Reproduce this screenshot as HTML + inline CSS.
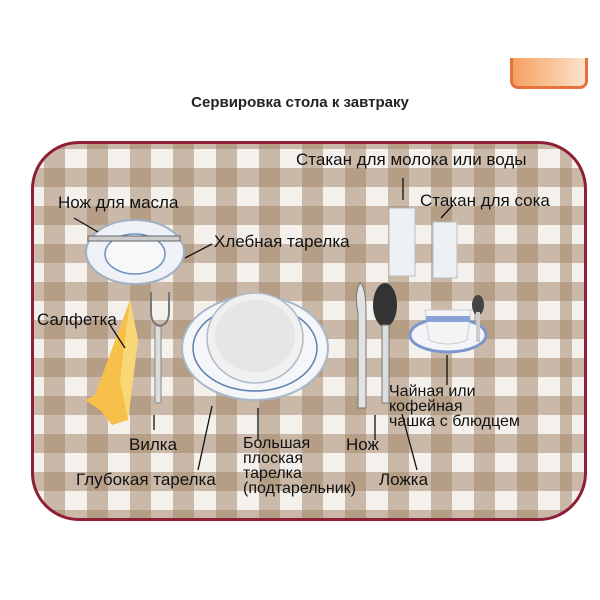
<!DOCTYPE html>
<html><head><meta charset="utf-8"><style>
body{margin:0;width:600px;height:600px;background:#fff;position:relative;overflow:hidden;font-family:"Liberation Sans",sans-serif;}
.cloth{position:absolute;left:31px;top:141px;width:550px;height:374px;border:3px solid #8f1f35;border-radius:48px;overflow:hidden;
background-color:#f4f1ec;
background-image:repeating-linear-gradient(90deg,transparent 0 22px,rgba(160,130,100,.5) 22px 43px),repeating-linear-gradient(0deg,transparent 0 19px,rgba(160,130,100,.5) 19px 38px);
background-position:-12px -8px;}
.t{position:absolute;font-size:16px;color:#111;line-height:16px;white-space:nowrap;}
svg{position:absolute;left:0;top:0}
</style></head><body>
<div style="position:absolute;left:510px;top:58px;width:72px;height:28px;border:3px solid #e8703a;border-top:none;border-radius:0 0 8px 8px;background:linear-gradient(90deg,#f5a060,#fbe3cc)"></div>
<div style="position:absolute;left:0;top:94px;width:600px;text-align:center;font-weight:bold;font-size:15px;color:#222">Сервировка стола к завтраку</div>
<div class="cloth"></div>
<svg width="600" height="600">
<ellipse cx="135" cy="252" rx="49" ry="32" fill="#eef2f6" stroke="#9fb0c4" stroke-width="2"/>
<ellipse cx="135" cy="254" rx="30" ry="20" fill="#f6f8fa" stroke="#6d8fc0" stroke-width="1.5"/>
<rect x="88" y="236" width="92" height="5" fill="#ccc" stroke="#666" stroke-width="1"/>
<path d="M95 395 L130 300 L138 340 L128 420 L112 425 L100 410 L85 400 Z" fill="#f7c04a"/>
<path d="M130 300 L138 340 L128 420 L120 380 Z" fill="#f9d777"/>
<rect x="155" y="325" width="6" height="78" rx="2" fill="#ddd" stroke="#888"/>
<path d="M151 292 v20 q0 12 9 14 q9 -2 9 -14 v-20" fill="none" stroke="#777" stroke-width="2"/>
<ellipse cx="255" cy="348" rx="73" ry="52" fill="#f4f6f8" stroke="#a7b7c9" stroke-width="2"/>
<ellipse cx="255" cy="348" rx="62" ry="43" fill="none" stroke="#5d7fb0" stroke-width="1.5"/>
<ellipse cx="255" cy="338" rx="48" ry="45" fill="#f0f0f0" stroke="#b0bac6" stroke-width="1.5"/>
<ellipse cx="255" cy="336" rx="40" ry="36" fill="#e6e6e6"/>
<path d="M360 283 q6 4 6 30 v95 h-8 v-95 q-4 -20 2 -30z" fill="#e2e2e2" stroke="#777"/>
<ellipse cx="385" cy="305" rx="12" ry="22" fill="#333"/>
<rect x="382" y="325" width="7" height="78" fill="#ddd" stroke="#777"/>
<rect x="389" y="208" width="26" height="68" fill="#eef1f3" stroke="#bbb"/>
<rect x="433" y="222" width="24" height="56" fill="#eef1f3" stroke="#bbb"/>
<ellipse cx="448" cy="335" rx="38" ry="17" fill="#f2f4f8" stroke="#7d97cc" stroke-width="3"/>
<path d="M425 310 h46 l-4 30 q-19 8 -38 0z" fill="#f4f4f4" stroke="#ccc"/>
<rect x="426" y="316" width="44" height="6" fill="#8aa3d6"/>
<ellipse cx="478" cy="305" rx="6" ry="10" fill="#444"/>
<rect x="476" y="312" width="4" height="30" fill="#ccc"/>
<g stroke="#111" stroke-width="1.3" fill="none">
<line x1="74" y1="218" x2="98" y2="232"/>
<line x1="185" y1="258" x2="212" y2="244"/>
<line x1="110" y1="325" x2="125" y2="348"/>
<line x1="154" y1="415" x2="154" y2="430"/>
<line x1="212" y1="406" x2="198" y2="470"/>
<line x1="258" y1="408" x2="258" y2="440"/>
<line x1="375" y1="415" x2="375" y2="440"/>
<line x1="402" y1="414" x2="417" y2="470"/>
<line x1="403" y1="178" x2="403" y2="200"/>
<line x1="441" y1="218" x2="453" y2="205"/>
<line x1="447" y1="355" x2="447" y2="385"/>
</g>
</svg>
<div class="t" style="left:296px;top:152px;font-size:17px">Стакан для молока или воды</div>
<div class="t" style="left:420px;top:193px;font-size:17px">Стакан для сока</div>
<div class="t" style="left:58px;top:195px;font-size:17px">Нож для масла</div>
<div class="t" style="left:214px;top:234px;font-size:17px">Хлебная тарелка</div>
<div class="t" style="left:37px;top:312px;font-size:17px">Салфетка</div>
<div class="t" style="left:389px;top:384px;font-size:16px;line-height:15px">Чайная или<br>кофейная<br>чашка с блюдцем</div>
<div class="t" style="left:129px;top:437px;font-size:17px">Вилка</div>
<div class="t" style="left:243px;top:436px;font-size:16px;line-height:15px">Большая<br>плоская<br>тарелка<br>(подтарельник)</div>
<div class="t" style="left:346px;top:437px;font-size:17px">Нож</div>
<div class="t" style="left:76px;top:472px;font-size:17px">Глубокая тарелка</div>
<div class="t" style="left:379px;top:472px;font-size:17px">Ложка</div>
</body></html>
